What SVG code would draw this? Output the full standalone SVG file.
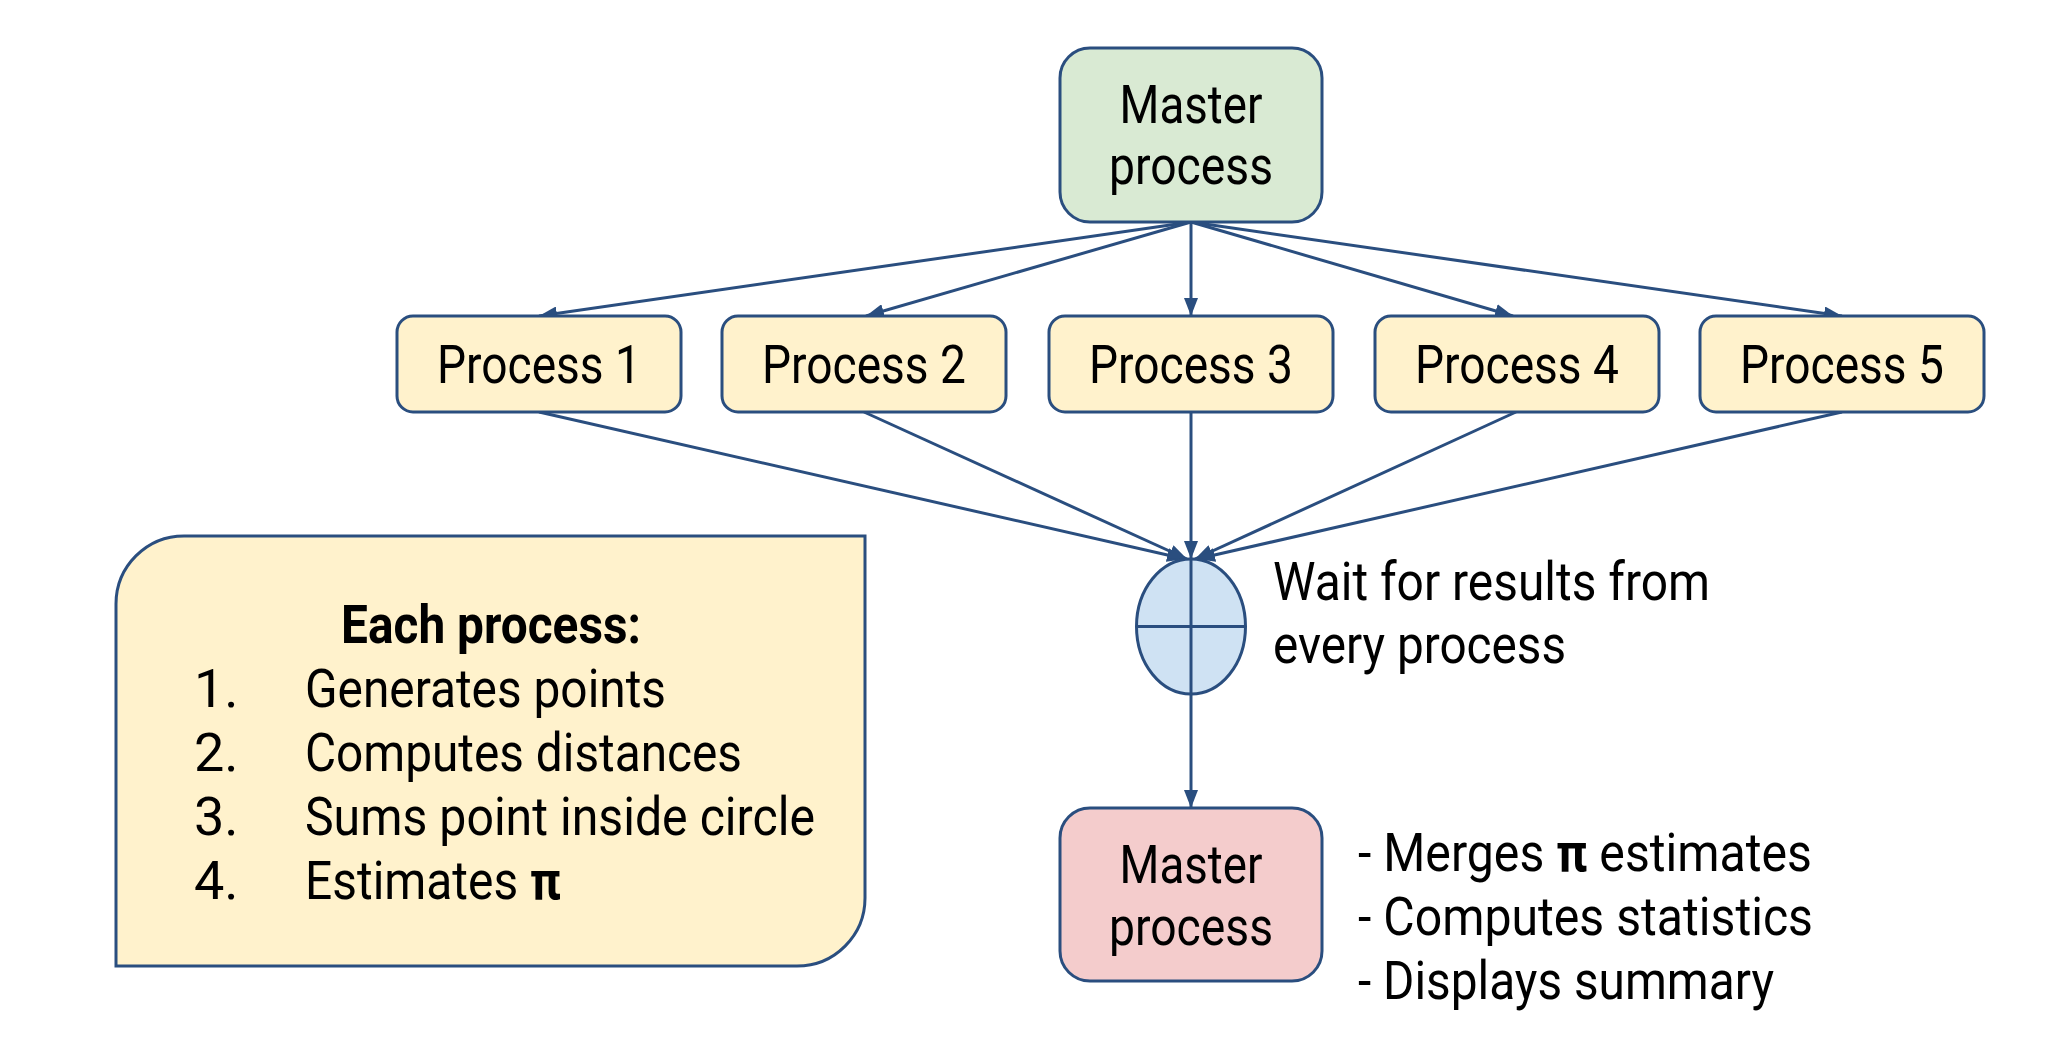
<svg xmlns="http://www.w3.org/2000/svg" width="2066" height="1050" viewBox="0 0 2066 1050">
<style>
.box{stroke:#2a4e7f;stroke-width:3}
.green{fill:#d9ead3}.yellow{fill:#fff2cc}.red{fill:#f4cccc}.blue{fill:#cfe2f3}
.t{font-family:Roboto,"Liberation Sans",sans-serif;font-size:54px;fill:#000}
.c{text-anchor:middle}
.b{font-weight:bold}
.conn line{stroke:#2a4e7f;stroke-width:3;fill:none}
</style>
<defs>
<marker id="arr" markerUnits="userSpaceOnUse" markerWidth="18" markerHeight="14" refX="18" refY="7" orient="auto">
<path d="M0,0 L18,7 L0,14 z" fill="#2a4e7f"/>
</marker>
</defs>
<rect width="2066" height="1050" fill="#fff"/>

<g id="connectors" class="conn">
<line x1="1191" y1="222" x2="539" y2="316" marker-end="url(#arr)"/>
<line x1="1191" y1="222" x2="866" y2="316" marker-end="url(#arr)"/>
<line x1="1191" y1="222" x2="1191" y2="316" marker-end="url(#arr)"/>
<line x1="1191" y1="222" x2="1513" y2="316" marker-end="url(#arr)"/>
<line x1="1191" y1="222" x2="1842" y2="316" marker-end="url(#arr)"/>
<line x1="539" y1="412" x2="1185" y2="559" marker-end="url(#arr)"/>
<line x1="864" y1="412" x2="1187" y2="559" marker-end="url(#arr)"/>
<line x1="1191" y1="412" x2="1191" y2="559" marker-end="url(#arr)"/>
<line x1="1516" y1="412" x2="1195" y2="559" marker-end="url(#arr)"/>
<line x1="1842" y1="412" x2="1197" y2="559" marker-end="url(#arr)"/>
<line x1="1191" y1="694" x2="1191" y2="808" marker-end="url(#arr)"/>
</g>

<g id="master-top">
<rect class="box green" x="1060" y="48" width="262" height="174" rx="30"/>
<text class="t c" x="1191" y="123" textLength="143" lengthAdjust="spacingAndGlyphs">Master</text>
<text class="t c" x="1191" y="184" textLength="164" lengthAdjust="spacingAndGlyphs">process</text>
</g>

<g id="process1">
<rect class="box yellow" x="397" y="316" width="284" height="96" rx="16"/>
<text class="t c" x="539" y="383" textLength="204" lengthAdjust="spacingAndGlyphs">Process 1</text>
</g>
<g id="process2">
<rect class="box yellow" x="722" y="316" width="284" height="96" rx="16"/>
<text class="t c" x="864" y="383" textLength="204" lengthAdjust="spacingAndGlyphs">Process 2</text>
</g>
<g id="process3">
<rect class="box yellow" x="1049" y="316" width="284" height="96" rx="16"/>
<text class="t c" x="1191" y="383" textLength="204" lengthAdjust="spacingAndGlyphs">Process 3</text>
</g>
<g id="process4">
<rect class="box yellow" x="1375" y="316" width="284" height="96" rx="16"/>
<text class="t c" x="1517" y="383" textLength="204" lengthAdjust="spacingAndGlyphs">Process 4</text>
</g>
<g id="process5">
<rect class="box yellow" x="1700" y="316" width="284" height="96" rx="16"/>
<text class="t c" x="1842" y="383" textLength="204" lengthAdjust="spacingAndGlyphs">Process 5</text>
</g>

<g id="wait">
<ellipse class="box blue" cx="1191" cy="626.5" rx="54.5" ry="67.5"/>
<line x1="1191" y1="559" x2="1191" y2="694" stroke="#2a4e7f" stroke-width="3"/>
<line x1="1136.5" y1="626.5" x2="1245.5" y2="626.5" stroke="#2a4e7f" stroke-width="3"/>
<text class="t" x="1273" y="600" textLength="437" lengthAdjust="spacingAndGlyphs">Wait for results from</text>
<text class="t" x="1273" y="663" textLength="293" lengthAdjust="spacingAndGlyphs">every process</text>
</g>

<g id="master-bottom">
<rect class="box red" x="1060" y="808" width="262" height="173" rx="30"/>
<text class="t c" x="1191" y="883" textLength="143" lengthAdjust="spacingAndGlyphs">Master</text>
<text class="t c" x="1191" y="945" textLength="164" lengthAdjust="spacingAndGlyphs">process</text>
<text class="t" x="1358" y="871" textLength="454" lengthAdjust="spacingAndGlyphs">- Merges <tspan class="b">π</tspan> estimates</text>
<text class="t" x="1358" y="935" textLength="455" lengthAdjust="spacingAndGlyphs">- Computes statistics</text>
<text class="t" x="1358" y="999" textLength="416" lengthAdjust="spacingAndGlyphs">- Displays summary</text>
</g>

<g id="each-process">
<path class="box yellow" stroke-width="3.4" d="M116,966 L116,604 A68,68 0 0 1 184,536 L865,536 L865,898 A68,68 0 0 1 797,966 Z"/>
<text class="t c b" x="491" y="643" textLength="300" lengthAdjust="spacingAndGlyphs">Each process:</text>
<text class="t" x="194" y="707">1.</text>
<text class="t" x="194" y="771">2.</text>
<text class="t" x="194" y="835">3.</text>
<text class="t" x="194" y="899">4.</text>
<text class="t" x="305" y="707" textLength="361" lengthAdjust="spacingAndGlyphs">Generates points</text>
<text class="t" x="305" y="771" textLength="437" lengthAdjust="spacingAndGlyphs">Computes distances</text>
<text class="t" x="305" y="835" textLength="510" lengthAdjust="spacingAndGlyphs">Sums point inside circle</text>
<text class="t" x="305" y="899" textLength="256" lengthAdjust="spacingAndGlyphs">Estimates <tspan class="b">π</tspan></text>
</g>
</svg>
